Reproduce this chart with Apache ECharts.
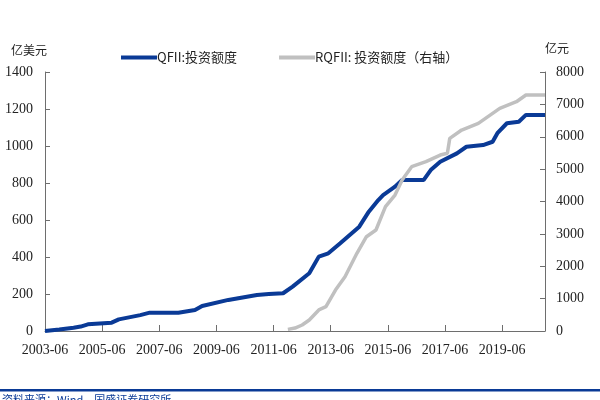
<!DOCTYPE html>
<html>
<head>
<meta charset="utf-8">
<script src="https://cdn.jsdelivr.net/npm/echarts@6/dist/echarts.min.js"></script>
<style>
  html, body { margin: 0; padding: 0; background: #fff; }
  #chart { width: 600px; height: 400px; }
</style>
</head>
<body>
<div id="chart"></div>
<script>
// QFII 投资额度（亿美元，左轴）
var qfiiDates = ['2003-06', '2003-12', '2004-06', '2004-09', '2004-12', '2005-10', '2006-01', '2006-10',
  '2007-02', '2008-02', '2008-09', '2008-12', '2009-11', '2010-11', '2011-04', '2011-10', '2012-02',
  '2012-09', '2013-01', '2013-05', '2013-10', '2014-06', '2014-10', '2015-02', '2015-04', '2015-09',
  '2015-12', '2016-09', '2016-12', '2017-04', '2017-11', '2018-03', '2018-10', '2019-02', '2019-04',
  '2019-08', '2020-01', '2020-04', '2020-12'];
var qfiiValues = [0, 8, 18, 24, 36, 45, 63, 86,
  99, 99, 113, 135, 168, 195, 200, 204, 240,
  312, 402, 420, 474, 564, 645, 708, 735, 780,
  816, 816, 870, 915, 960, 996, 1005, 1023, 1069,
  1123, 1131, 1168, 1168];

// RQFII 投资额度（亿元，右轴）
var rqfiiDates = ['2011-12', '2012-03', '2012-06', '2012-09', '2013-01', '2013-04', '2013-08', '2013-12',
  '2014-05', '2014-09', '2015-01', '2015-05', '2015-09', '2015-12', '2016-04', '2016-10', '2017-04',
  '2017-07', '2017-08', '2018-01', '2018-08', '2019-05', '2019-12', '2020-04', '2020-12'];
var rqfiiValues = [50, 90, 185, 340, 650, 750, 1266, 1677,
  2400, 2912, 3120, 3840, 4200, 4663, 5075, 5230, 5435,
  5490, 5950, 6207, 6415, 6877, 7082, 7290, 7290];

var leftTicks = [0, 200, 400, 600, 800, 1000, 1200, 1400];
var rightTicks = [0, 1000, 2000, 3000, 4000, 5000, 6000, 7000, 8000];

// months counted from 2003-06
function monthIndex(s) {
  var p = s.split('-');
  return (parseInt(p[0], 10) - 2003) * 12 + (parseInt(p[1], 10) - 6);
}
function pairs(dates, vals) {
  return dates.map(function (d, i) { return [monthIndex(d), vals[i]]; });
}

var chart = echarts.init(document.getElementById('chart'));

var numFont = 'Liberation Serif';
var cjkFont = 'Noto Sans CJK SC';
var axisColor = '#6e6e6e';

option = {
  animation: false,
  grid: { left: 45, right: 55, top: 72, bottom: 69 },
  legend: {
    left: 116,
    top: 46,
    itemWidth: 36,
    itemHeight: 4,
    itemGap: 42,
    icon: 'rect',
    textStyle: { fontFamily: cjkFont, fontSize: 13, color: '#222', padding: [0, 0, 0, -5] },
    data: ['QFII:投资额度', 'RQFII: 投资额度（右轴）']
  },
  xAxis: {
    type: 'value',
    min: 0,
    max: 210,
    interval: 24,
    splitLine: { show: false },
    axisLine: { lineStyle: { color: axisColor, width: 1 } },
    axisTick: { inside: true, length: 6, lineStyle: { color: axisColor } },
    axisLabel: {
      margin: 12,
      showMaxLabel: false,
      fontFamily: numFont,
      fontSize: 14,
      color: '#222',
      formatter: function (v) { return (2003 + v / 12) + '-06'; }
    }
  },
  yAxis: [
    {
      type: 'value',
      min: 0,
      max: leftTicks[leftTicks.length - 1],
      interval: 200,
      name: '亿美元',
      nameGap: 16,
      nameTextStyle: { fontFamily: cjkFont, fontSize: 12, color: '#222', padding: [0, 32, 0, 0] },
      splitLine: { show: false },
      axisLine: { show: true, lineStyle: { color: axisColor } },
      axisTick: { show: true, inside: true, length: 5, lineStyle: { color: axisColor } },
      axisLabel: {
        margin: 12, fontFamily: numFont, fontSize: 14, color: '#222',
        formatter: function (v) { return String(v); }
      }
    },
    {
      type: 'value',
      min: 0,
      max: rightTicks[rightTicks.length - 1],
      interval: 1000,
      name: '亿元',
      nameGap: 18,
      nameTextStyle: { fontFamily: cjkFont, fontSize: 12, color: '#222', padding: [0, 0, 0, 24] },
      splitLine: { show: false },
      axisLine: { show: true, lineStyle: { color: axisColor } },
      axisTick: { show: true, inside: true, length: 5, lineStyle: { color: axisColor } },
      axisLabel: {
        margin: 11, fontFamily: numFont, fontSize: 14, color: '#222',
        formatter: function (v) { return String(v); }
      }
    }
  ],
  graphic: [
    {
      type: 'rect',
      shape: { x: 0, y: 389, width: 600, height: 2.5 },
      style: { fill: '#0a3a96' }
    },
    {
      type: 'text',
      left: 2,
      top: 394,
      style: { text: '资料来源：Wind，国盛证券研究所', fontFamily: cjkFont, fontSize: 11, fill: '#0a3a96' }
    }
  ],
  series: [
    {
      name: 'QFII:投资额度',
      type: 'line',
      yAxisIndex: 0,
      showSymbol: false,
      symbol: 'none',
      color: '#0a3a96',
      lineStyle: { width: 4, color: '#0a3a96' },
      data: pairs(qfiiDates, qfiiValues)
    },
    {
      name: 'RQFII: 投资额度（右轴）',
      type: 'line',
      yAxisIndex: 1,
      showSymbol: false,
      symbol: 'none',
      color: '#c0c0c0',
      lineStyle: { width: 3.5, color: '#c0c0c0' },
      data: pairs(rqfiiDates, rqfiiValues)
    }
  ]
};

chart.setOption(option);
</script>
</body>
</html>
